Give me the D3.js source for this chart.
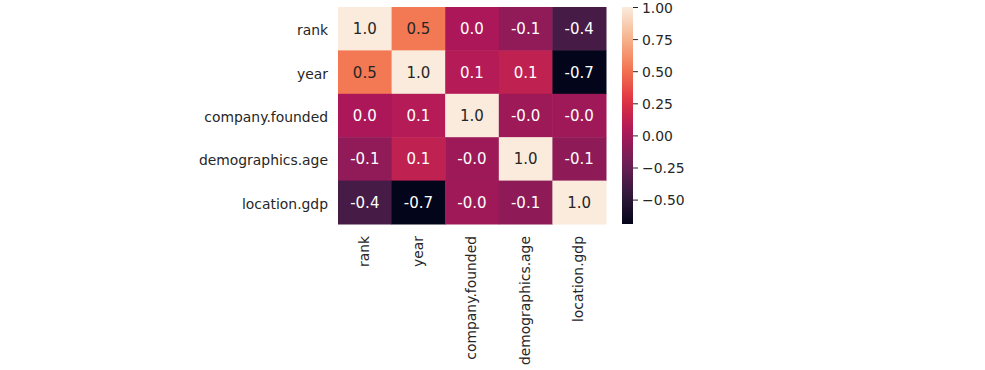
<!DOCTYPE html>
<html>
<head>
<meta charset="utf-8">
<script src="https://cdn.jsdelivr.net/npm/d3@7"></script>
<style>
  body { margin: 0; background: #fff; }
  text { font-family: "DejaVu Sans", sans-serif; fill: #262626; }
</style>
</head>
<body>
<div id="chart"></div>
<script>
// variables, in order (rows top to bottom, columns left to right)
const variables = ['rank', 'year', 'company.founded', 'demographics.age', 'location.gdp'];
// correlation matrix
const corrRank    = [1.00, 0.53, 0.03, -0.08, -0.38];
const corrYear    = [0.53, 1.00, 0.07, 0.12, -0.69];
const corrFounded = [0.03, 0.07, 1.00, -0.03, -0.02];
const corrAge     = [-0.08, 0.12, -0.03, 1.00, -0.09];
const corrGdp     = [-0.38, -0.69, -0.02, -0.09, 1.00];
const matrix = [corrRank, corrYear, corrFounded, corrAge, corrGdp];
const colorbarTicks = [-0.5, -0.25, 0, 0.25, 0.5, 0.75, 1.0];

// seaborn "rocket" approximated by its sampled palette
const rocketStops = ['#03051a', '#35193e', '#701f57', '#ad1759', '#e13342', '#f37651', '#f6b48f', '#faebdd'];
const rocket = d3.scaleLinear()
  .domain(rocketStops.map((_, i) => i / (rocketStops.length - 1)))
  .range(rocketStops)
  .interpolate(d3.interpolateRgb);

const W = 985, H = 370;
const svg = d3.select('#chart').append('svg').attr('width', W).attr('height', H);

const plot = { left: 338, top: 7, right: 606, bottom: 224 };
const cells = matrix.flatMap((row, i) => row.map((v, j) => ({ r: variables[i], c: variables[j], v })));
const vmin = d3.min(cells, d => d.v), vmax = d3.max(cells, d => d.v);
const norm = d3.scaleLinear().domain([vmin, vmax]).range([0, 1]);
const color = v => rocket(norm(v));

const x = d3.scaleBand().domain(variables).range([plot.left, plot.right]);
const y = d3.scaleBand().domain(variables).range([plot.top, plot.bottom]);

svg.append('g').selectAll('rect').data(cells).join('rect')
  .attr('x', d => x(d.c)).attr('y', d => y(d.r))
  .attr('width', x.bandwidth() + 0.5).attr('height', y.bandwidth() + 0.5)
  .attr('fill', d => color(d.v));

svg.append('g').selectAll('text').data(cells).join('text')
  .attr('x', d => x(d.c) + x.bandwidth() / 2)
  .attr('y', d => y(d.r) + y.bandwidth() / 2)
  .attr('text-anchor', 'middle').attr('dy', '0.37em')
  .style('font-size', '15px')
  .style('fill', d => d3.hsl(color(d.v)).l > 0.6 ? '#262626' : '#ffffff')
  .text(d => d.v.toFixed(1));

// row labels
const yAxis = svg.append('g').attr('transform', `translate(${plot.left},0)`)
  .call(d3.axisLeft(y).tickSize(0).tickPadding(10));
yAxis.select('.domain').remove();
yAxis.selectAll('text').style('font-size', '13.9px').style('fill', '#262626').attr('dy', '0.47em');

// column labels
const xAxis = svg.append('g').attr('transform', `translate(0,${plot.bottom})`)
  .call(d3.axisBottom(x).tickSize(0).tickPadding(0));
xAxis.select('.domain').remove();
xAxis.selectAll('text').style('font-size', '13.9px').style('fill', '#262626')
  .attr('transform', 'rotate(-90)')
  .attr('text-anchor', 'end').attr('x', -12).attr('y', 0).attr('dy', '0.3em');

// colorbar
const cbX = 622, cbW = 11;
const cbScale = d3.scaleLinear().domain([vmin, vmax]).range([plot.bottom, plot.top]);
const grad = svg.append('defs').append('linearGradient').attr('id', 'cb')
  .attr('x1', 0).attr('y1', 1).attr('x2', 0).attr('y2', 0);
d3.range(0, 1.0001, 0.05).forEach(t => grad.append('stop').attr('offset', t).attr('stop-color', rocket(t)));
svg.append('rect').attr('x', cbX).attr('y', plot.top).attr('width', cbW).attr('height', plot.bottom - plot.top)
  .attr('fill', 'url(#cb)');
const cbAxis = svg.append('g').attr('transform', `translate(${cbX + cbW},0)`)
  .call(d3.axisRight(cbScale).tickValues(colorbarTicks).tickSize(5).tickPadding(4)
    .tickFormat(d => d3.format('.2f')(d).replace('-', '\u2212')));
cbAxis.select('.domain').remove();
cbAxis.selectAll('line').attr('stroke', '#262626').attr('stroke-width', 1);
cbAxis.selectAll('text').style('font-size', '13.9px').style('fill', '#262626').attr('dy', '0.36em');
</script>
</body>
</html>
